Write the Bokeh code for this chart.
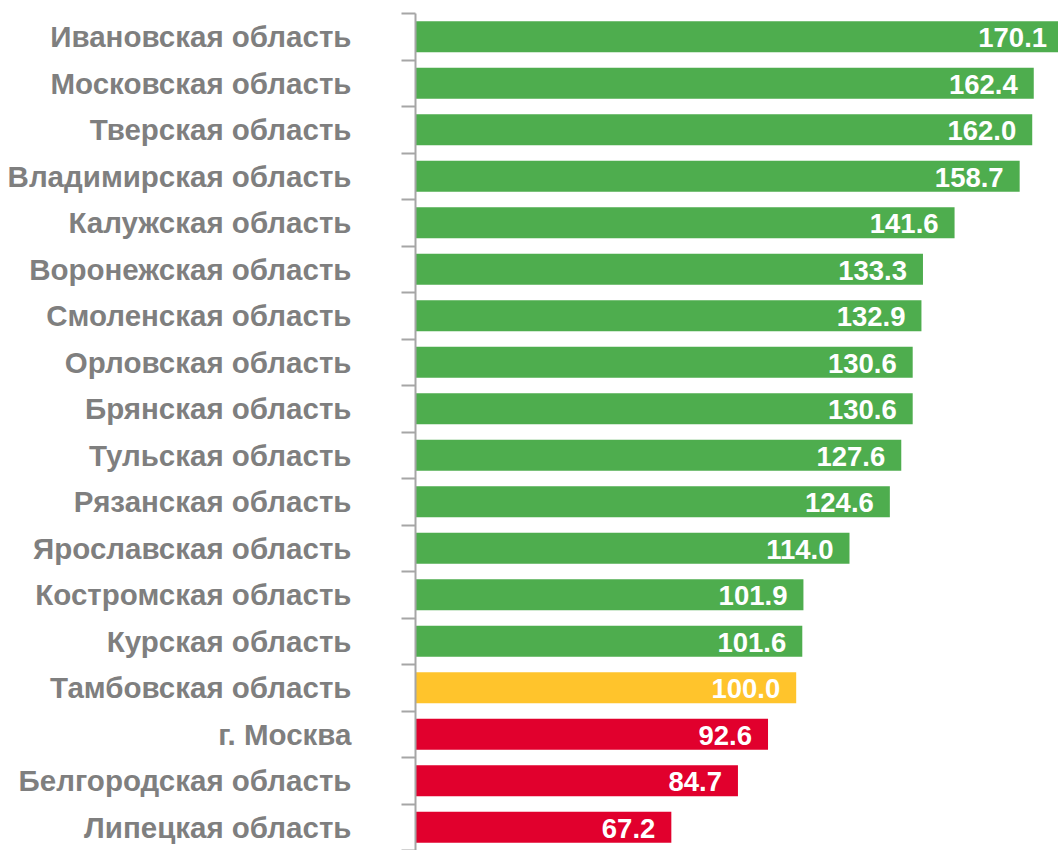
from bokeh.plotting import figure
from bokeh.models import Range1d, FixedTicker, ColumnDataSource
from bokeh.core.properties import value
from bokeh.embed import file_html
from bokeh.resources import INLINE

regions = ["Ивановская область", "Московская область", "Тверская область",
           "Владимирская область", "Калужская область", "Воронежская область",
           "Смоленская область", "Орловская область", "Брянская область",
           "Тульская область", "Рязанская область", "Ярославская область",
           "Костромская область", "Курская область", "Тамбовская область",
           "г. Москва", "Белгородская область", "Липецкая область"]
values = [170.1, 162.4, 162.0, 158.7, 141.6, 133.3, 132.9, 130.6, 130.6,
          127.6, 124.6, 114.0, 101.9, 101.6, 100.0, 92.6, 84.7, 67.2]

GREEN = "#4EAD4E"
YELLOW = "#FFC42C"
RED = "#E1002D"
colors = [GREEN if v > 100 else (YELLOW if v == 100 else RED) for v in values]

n = len(regions)
pos = list(range(n))
src = ColumnDataSource(dict(y=pos, v=values, c=colors,
                            t=[f"{v:.1f}" for v in values]))

p = figure(width=1058, height=850, output_backend="svg", toolbar_location=None,
           x_range=Range1d(0, 168.9), y_range=Range1d(n - 0.5, -0.5),
           min_border_left=415, min_border_right=0, min_border_top=13,
           min_border_bottom=0)
p.outline_line_color = None
p.xgrid.visible = False
p.ygrid.visible = False
p.xaxis.visible = False
p.background_fill_color = "white"

p.hbar(y="y", left=0, right="v", height=0.67, fill_color="c", line_color=None,
       source=src)
p.text(x="v", y="y", text="t", source=src, x_offset=-16, y_offset=1,
       text_align="right", text_baseline="middle", text_color="white",
       text_font=value("Liberation Sans"), text_font_style="bold",
       text_font_size="27.5px")

ax = p.yaxis[0]
ax.ticker = FixedTicker(ticks=pos, minor_ticks=[i - 0.5 for i in range(n + 1)])
ax.major_label_overrides = {i: r for i, r in enumerate(regions)}
ax.major_tick_line_color = None
ax.major_tick_out = 0
ax.major_tick_in = 0
ax.minor_tick_out = 14
ax.minor_tick_in = 0
ax.minor_tick_line_color = "#A6A6A6"
ax.minor_tick_line_width = 2
ax.axis_line_color = "#A6A6A6"
ax.axis_line_width = 2
ax.major_label_standoff = 50
ax.major_label_text_font = "Liberation Sans"
ax.major_label_text_font_style = "bold"
ax.major_label_text_font_size = "29.5px"
ax.major_label_text_color = "#7F7F7F"

open("out.html", "w").write(file_html(p, INLINE))
